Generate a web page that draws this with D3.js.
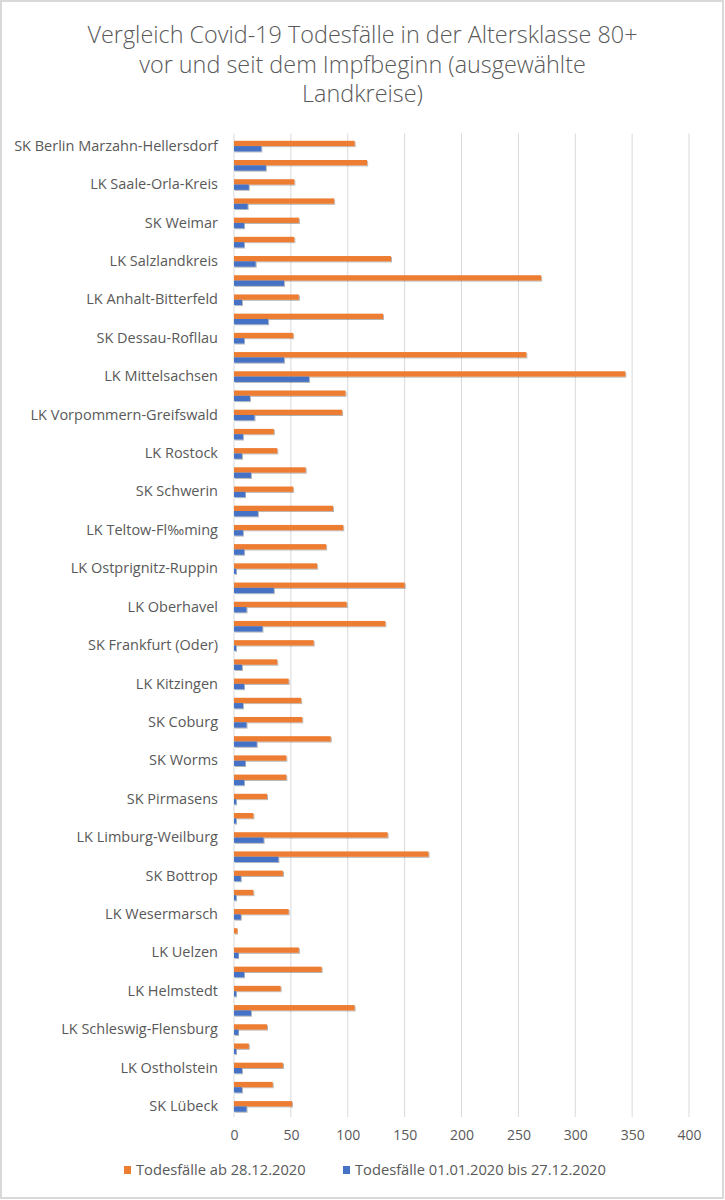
<!DOCTYPE html>
<html>
<head>
<meta charset="utf-8">
<script src="https://cdn.jsdelivr.net/npm/d3@7"></script>
<style>
    body { margin: 0; background: #fff; }
    text { font-family: "Open Sans", "DejaVu Sans", sans-serif; fill: #595959; }
</style>
</head>
<body>
<div id="chart"></div>
<script>
// Only every second row has a visible label in the original chart
const tickLabels = [
    "SK Berlin Marzahn-Hellersdorf", "LK Saale-Orla-Kreis", "SK Weimar", "LK Salzlandkreis",
    "LK Anhalt-Bitterfeld", "SK Dessau-Rofllau", "LK Mittelsachsen", "LK Vorpommern-Greifswald",
    "LK Rostock", "SK Schwerin", "LK Teltow-Fl\u2030ming", "LK Ostprignitz-Ruppin",
    "LK Oberhavel", "SK Frankfurt (Oder)", "LK Kitzingen", "SK Coburg",
    "SK Worms", "SK Pirmasens", "LK Limburg-Weilburg", "SK Bottrop",
    "LK Wesermarsch", "LK Uelzen", "LK Helmstedt", "LK Schleswig-Flensburg",
    "LK Ostholstein", "SK Lübeck"
];

// Todesfälle ab 28.12.2020 (orange), top to bottom
const deathsSince = [
    106, 117, 53, 88, 57, 53, 138, 270, 57, 131,
    52, 257, 344, 98, 95, 35, 38, 63, 52, 87,
    96, 81, 73, 150, 99, 133, 70, 38, 48, 59,
    60, 85, 46, 46, 29, 17, 135, 171, 43, 17,
    48, 3, 57, 77, 41, 106, 29, 13, 43, 34, 51
];

// Todesfälle 01.01.2020 bis 27.12.2020 (blue), top to bottom
const deathsBefore = [
    24, 28, 13, 12, 9, 9, 19, 44, 7, 30,
    9, 44, 66, 14, 18, 8, 7, 15, 10, 21,
    8, 9, 2, 35, 11, 25, 2, 7, 9, 8,
    11, 20, 10, 9, 2, 2, 26, 39, 6, 2,
    6, 0, 4, 9, 2, 15, 4, 2, 7, 7, 11
];

const seriesNames = ["Todesfälle ab 28.12.2020", "Todesfälle 01.01.2020 bis 27.12.2020"];
const seriesKeys = ["since", "before"];
const xTicks = [0, 50, 100, 150, 200, 250, 300, 350, 400];

const rows = deathsSince.map((v, i) => ({
    idx: i,
    label: i % 2 === 0 ? tickLabels[i / 2] : "",
    since: v,
    before: deathsBefore[i]
}));

const W = 725, H = 1200;
const margin = { top: 136.5, right: 36, bottom: 84, left: 234 };
const width = W - margin.left - margin.right;
const height = H - margin.top - margin.bottom;

const root = d3.select("#chart").append("svg")
    .attr("width", W)
    .attr("height", H);

// soft shadow like the Excel bars
root.append("defs").append("filter")
    .attr("id", "bar-shadow")
    .attr("x", "-5%").attr("y", "-20%")
    .attr("width", "110%").attr("height", "160%")
    .html(`<feDropShadow dx="1" dy="1" stdDeviation="0.6" flood-color="#000" flood-opacity="0.3"/>`);

// outer frame
root.append("rect")
    .attr("x", 1).attr("y", 1)
    .attr("width", W - 3).attr("height", H - 3)
    .attr("fill", "#fff")
    .attr("stroke", "#d9d9d9")
    .attr("stroke-width", 2);

// title
const titleLines = [
    "Vergleich Covid-19 Todesfälle in der Altersklasse 80+",
    "vor und seit dem Impfbeginn (ausgewählte",
    "Landkreise)"
];
root.append("g")
    .selectAll("text")
    .data(titleLines)
    .join("text")
    .attr("x", W / 2)
    .attr("y", (d, i) => 43 + i * 29.5)
    .attr("text-anchor", "middle")
    .attr("font-size", "23.4px")
    .attr("font-weight", 300)
    .text(d => d);

const svg = root.append("g")
    .attr("transform", `translate(${margin.left},${margin.top})`);

// scales
const x = d3.scaleLinear().domain([0, 400]).range([0, width]);
const y0 = d3.scaleBand().domain(rows.map(d => d.idx)).range([0, height]);
const y1 = d3.scaleBand().domain(seriesKeys).range([0, y0.bandwidth()]).paddingOuter(0.81);
const color = d3.scaleOrdinal().domain(seriesKeys).range(["#ed7d31", "#4472c4"]);

// vertical grid lines
svg.append("g")
    .selectAll("line")
    .data(xTicks)
    .join("line")
    .attr("x1", d => x(d)).attr("x2", d => x(d))
    .attr("y1", -3).attr("y2", height + 1)
    .attr("stroke", "#d9d9d9")
    .attr("stroke-width", 1);

// x axis labels
svg.append("g")
    .attr("transform", `translate(0,${height})`)
    .call(d3.axisBottom(x).tickValues(xTicks).tickSize(0).tickPadding(14))
    .call(g => g.select(".domain").remove())
    .selectAll("text")
    .attr("font-size", "14px")
    .attr("font-family", null);

// category labels
svg.append("g")
    .call(d3.axisLeft(y0).tickSize(0).tickPadding(16).tickFormat(i => rows[i].label))
    .call(g => g.select(".domain").remove())
    .selectAll("text")
    .attr("font-size", "14.5px")
    .attr("font-family", null);

// bars
svg.append("g")
    .selectAll("g")
    .data(rows)
    .join("g")
    .attr("transform", d => `translate(0,${y0(d.idx)})`)
    .selectAll("rect")
    .data(d => seriesKeys.map(k => ({ key: k, value: d[k] })))
    .join("rect")
    .attr("x", x(0))
    .attr("y", d => y1(d.key))
    .attr("height", y1.bandwidth())
    .attr("width", d => x(d.value) - x(0))
    .attr("fill", d => color(d.key))
    .style("filter", "url(#bar-shadow)");

// legend
const legendX = [124, 343];
const legend = root.append("g")
    .selectAll("g")
    .data(seriesKeys)
    .join("g")
    .attr("transform", (d, i) => `translate(${legendX[i]},1166)`);

legend.append("rect")
    .attr("width", 7)
    .attr("height", 8)
    .attr("fill", d => color(d));

legend.append("text")
    .attr("x", 12)
    .attr("y", 9)
    .attr("font-size", "14.7px")
    .text((d, i) => seriesNames[i]);
</script>
</body>
</html>
